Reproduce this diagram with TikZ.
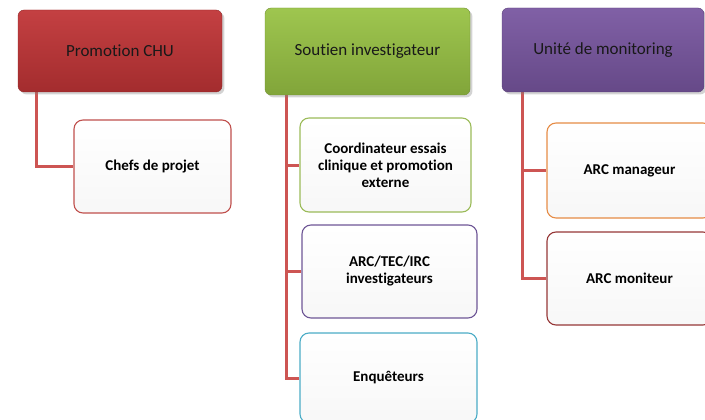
\documentclass[tikz,border=0pt]{standalone}
\usepackage{fontspec}
\setmainfont{Carlito}[Ligatures=NoCommon]
\usetikzlibrary{shadows,backgrounds}
\definecolor{promored}{RGB}{192,52,54}
\definecolor{soutiengreen}{RGB}{152,194,68}
\definecolor{monipurple}{RGB}{120,86,160}
\definecolor{linkred}{RGB}{205,85,83}
\definecolor{bordred}{RGB}{192,80,77}
\definecolor{bordgreen}{RGB}{155,187,89}
\definecolor{bordpurple}{RGB}{110,86,150}
\definecolor{bordcyan}{RGB}{75,172,198}
\definecolor{bordorange}{RGB}{230,140,70}
\definecolor{borddark}{RGB}{150,55,55}

\begin{document}
\begin{tikzpicture}[x=1pt,y=-1pt,
	head/.style={rounded corners=6pt, draw=#1!75!black, top color=#1!94!white, bottom color=#1!85!black, inner sep=0pt, font=\fontsize{17}{20}\selectfont, text=black!90, drop shadow={opacity=.35}},
	sub/.style={rounded corners=9pt, draw=#1, line width=1.1pt, top color=white, bottom color=black!3, inner sep=0pt, align=center, font=\bfseries\fontsize{15}{17}\selectfont},
	link/.style={draw=linkred, line width=3pt}]
	\useasboundingbox (0,0) rectangle (705,420);

	\node[head=promored, minimum width=204pt, minimum height=82pt] (promo) at (120, 51) {Promotion CHU};
	\node[head=soutiengreen, minimum width=205pt, minimum height=87pt] (soutien) at (367.5, 51.5) {Soutien investigateur};
	\node[head=monipurple, minimum width=202pt, minimum height=84pt] (moni) at (603, 50) {Unité de monitoring};

	\node[sub=bordred, minimum width=157pt, minimum height=93pt] (chefs) at (152.5, 166.5) {Chefs de projet};
	\node[sub=bordgreen, minimum width=171pt, minimum height=94pt] (coordo) at (385.5, 165) {Coordinateur essais\\clinique et promotion\\externe};
	\node[sub=bordpurple, minimum width=175pt, minimum height=93pt] (arctec) at (389.5, 271.5) {ARC/TEC/IRC\\investigateurs};
	\node[sub=bordcyan, minimum width=177pt, minimum height=90pt] (enquet) at (388.5, 378) {Enquêteurs};
	\node[sub=bordorange, minimum width=165pt, minimum height=95pt] (manag) at (629.5, 170.5) {ARC manageur};
	\node[sub=borddark, minimum width=165pt, minimum height=93pt] (monit) at (629.5, 278.5) {ARC moniteur};

	\begin{scope}[on background layer]
		\draw[link] ([xshift=19pt]promo.south west) |- (chefs.west);
		\draw[link] ([xshift=22pt]soutien.south west) |- (coordo.west);
		\draw[link] ([xshift=22pt]soutien.south west) |- (arctec.west);
		\draw[link] ([xshift=22pt]soutien.south west) |- (enquet.west);
		\draw[link] ([xshift=21pt]moni.south west) |- (manag.west);
		\draw[link] ([xshift=21pt]moni.south west) |- (monit.west);
	\end{scope}
\end{tikzpicture}
\end{document}
